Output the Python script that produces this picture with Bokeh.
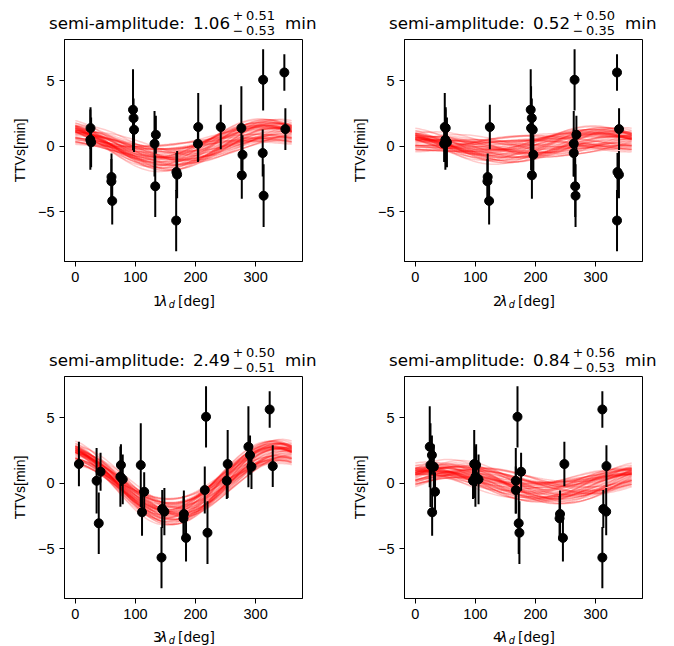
import numpy as np
from bokeh.plotting import figure
from bokeh.layouts import row, column
from bokeh.models import Range1d, FixedTicker, ColumnDataSource
from bokeh.core.properties import value
from bokeh.embed import file_html
from bokeh.resources import INLINE

# ---------------- data ----------------
ttv = [1.40, 0.51, 0.31, -2.34, -2.67, -4.17, 2.80, 2.16, 1.27, 0.89, 0.20, -3.05, -1.96,
       -2.16, -5.67, 1.48, 0.20, 1.48, 1.40, -0.64, -2.21, 5.09, -0.51, -3.77, 5.65, 1.32]
ttv_err = [1.6, 2.3, 1.9, 1.8, 1.7, 1.8, 3.1, 1.5, 1.7, 1.45, 2.5, 2.35, 1.45,
           1.8, 2.34, 2.6, 1.4, 1.7, 3.2, 1.5, 1.8, 2.34, 1.8, 2.4, 1.4, 1.6]
lam1 = [25.3, 25.0, 26.3, 60.2, 60.0, 61.4, 96.0, 96.9, 97.7, 134.0, 131.8, 133.0, 168.2,
        169.4, 167.8, 204.5, 204.0, 242.0, 276.3, 278.2, 277.0, 312.5, 311.8, 313.3, 347.8, 349.5]
lam2 = [50.6, 50.0, 52.6, 120.4, 120.0, 122.8, 192.0, 193.8, 195.4, 268.0, 263.6, 266.0, 336.4,
        338.8, 335.6, 49.0, 48.0, 124.0, 192.6, 196.4, 194.0, 265.0, 263.6, 266.6, 335.6, 339.0]
lam3 = [75.9, 75.0, 78.9, 180.6, 180.0, 184.2, 288.0, 290.7, 293.1, 42.0, 35.4, 39.0, 144.6,
        148.2, 143.4, 253.5, 252.0, 6.0, 108.9, 114.6, 111.0, 217.5, 215.4, 219.9, 323.4, 328.5]
lam4 = [101.2, 100.0, 105.2, 240.8, 240.0, 245.6, 24.0, 27.6, 30.8, 176.0, 167.2, 172.0, 312.8,
        317.6, 311.2, 98.0, 96.0, 248.0, 25.2, 32.8, 28.0, 170.0, 167.2, 173.2, 311.2, 318.0]
panel_phases = [lam1, lam2, lam3, lam4]

harmonics = ["1", "2", "3", "4"]
amp_med = ["1.06", "0.52", "2.49", "0.84"]
amp_up = ["0.51", "0.50", "0.50", "0.56"]
amp_lo = ["0.53", "0.35", "0.51", "0.53"]

x_ticks = [0, 100, 200, 300]
y_ticks = [-5, 0, 5]
y_tick_labels = {-5: "\u22125", 0: "0", 5: "5"}

# sinusoid model: offset c + a*cos(x) + b*sin(x), central values per panel
model_c = [0.17, 0.15, 0.15, 0.15]
model_a = [0.909, 0.345, 2.194, 0.511]
model_b = [-0.546, -0.289, -0.842, 0.549]
spread_ab = 0.45
spread_c = 0.30
# hand-typed standard deviates for the posterior sample curves
z1 = [0.12, -0.85, 1.34, -0.27, 0.56, -1.52, 0.03, 0.91, -0.44, 1.78, -0.66, 0.25, -1.13, 0.71, -0.08,
      1.02, -1.94, 0.38, -0.31, 0.64, 1.21, -0.72, 0.17, -0.55, 2.05, -0.19, 0.47, -1.36, 0.82, -0.02,
      -0.98, 0.33, 1.49, -0.61, 0.09, -1.25, 0.58, -0.37, 1.11, -0.83, 0.21, -0.14, 0.95, -1.67, 0.44,
      0.02, -0.49, 1.63, -0.26, 0.69, -1.05, 0.31, -0.76, 1.28, -0.11, 0.52, -2.12, 0.87, -0.35, 0.15]
z2 = [-0.42, 0.77, 0.05, -1.21, 1.46, 0.28, -0.63, -0.09, 1.05, -0.88, 0.36, -1.58, 0.61, 0.19, -0.97,
      1.87, 0.44, -0.23, -1.32, 0.81, -0.51, 0.13, 1.24, -0.74, -0.16, 0.95, -2.01, 0.53, -0.29, 1.39,
      0.07, -1.08, 0.66, -0.45, 1.72, -0.04, -0.81, 0.39, -1.44, 0.24, 1.13, -0.67, -0.18, 0.58, -1.19,
      0.92, 0.31, -0.56, 2.21, -0.93, 0.11, -0.38, 1.31, -1.71, 0.48, -0.21, 0.74, -0.06, -1.02, 0.57]
z3 = [0.63, -0.14, -1.08, 0.42, -0.37, 0.94, 1.55, -0.71, 0.18, -0.26, -1.47, 0.83, 0.29, -0.92, 1.16,
      -0.05, 0.51, -1.79, 0.72, 0.08, -0.59, 1.38, -0.33, 0.97, -0.11, -1.24, 0.36, 0.14, -0.68, 0.47,
      1.89, -0.41, -0.03, 1.07, -0.86, 0.25, -0.17, 1.62, 0.06, -1.15, -0.48, 0.79, 0.34, -0.22, 0.58,
      -1.98, 1.21, -0.61, 0.02, 0.41, -0.77, 1.01, 0.19, -0.39, -1.33, 0.88, 0.13, -0.54, 0.67, -0.09]

# ---------------- layout constants ----------------
FW, FH = 238, 222
LEFTS = [64, 56]
RIGHTS = [46, 24]
PTOP, PBOT = 2, 30
T1, MID, X2 = 37, 83, 18
X_RANGE = (-18, 378)
Y_RANGE = (-8.8, 8.17)
TICK_FONT = "Liberation Sans"
MATH_FONT = "DejaVu Sans"
BASE_FIX = 0.3   # baseline correction (fraction of font size) for text glyphs


def put(p, x, y, text, font, size_px, style="normal"):
    p.text(x=[x], y=[y + BASE_FIX * size_px], text=[text], text_font=value(font),
           text_font_size=value(f"{size_px}px"), text_font_style=style, text_color="black",
           text_baseline="alphabetic", text_align="left")


def strip(width, height):
    s = figure(width=width, height=height, x_range=Range1d(0, width), y_range=Range1d(0, height),
               output_backend="svg", toolbar_location=None, x_axis_type=None, y_axis_type=None,
               min_border_left=0, min_border_right=0, min_border_top=0, min_border_bottom=0,
               frame_align=False)
    s.outline_line_color = None
    s.background_fill_color = "white"
    s.border_fill_color = "white"
    return s


def add_title(s, left, i, ybase):
    put(s, left - 15.5, ybase, "semi-amplitude:", MATH_FONT, 16.7)
    put(s, left + 128.4, ybase, amp_med[i], MATH_FONT, 16.7)
    put(s, left + 168.3, ybase + 9, "+", MATH_FONT, 12.5)
    put(s, left + 181.5, ybase + 9, amp_up[i], MATH_FONT, 13)
    put(s, left + 168.3, ybase - 5.6, "\u2212", MATH_FONT, 12.5)
    put(s, left + 181.5, ybase - 5.6, amp_lo[i], MATH_FONT, 13)
    put(s, left + 220.5, ybase, "min", MATH_FONT, 16.7)


def add_xlabel(s, left, i, ybase):
    put(s, left + 88.5, ybase, harmonics[i], MATH_FONT, 13.9)
    put(s, left + 94.8, ybase, "\u03bb", MATH_FONT, 13.9, "italic")
    put(s, left + 104.3, ybase - 2.7, "d", MATH_FONT, 9.7, "italic")
    put(s, left + 113.5, ybase, "[deg]", MATH_FONT, 13.9)


def make_panel(i, left, right):
    p = figure(width=left + FW + right, height=PTOP + FH + PBOT,
               x_range=Range1d(*X_RANGE), y_range=Range1d(*Y_RANGE),
               output_backend="svg", toolbar_location=None,
               min_border_left=left, min_border_right=right,
               min_border_top=PTOP, min_border_bottom=PBOT, frame_align=False)
    p.xgrid.visible = False
    p.ygrid.visible = False
    p.outline_line_color = "black"
    p.outline_line_alpha = 1.0
    p.outline_line_width = 1
    p.background_fill_color = "white"
    p.border_fill_color = "white"

    for ax in (p.xaxis[0], p.yaxis[0]):
        ax.axis_line_color = "black"
        ax.major_tick_line_color = "black"
        ax.minor_tick_line_color = None
        ax.major_tick_out = 5
        ax.major_tick_in = 0
        ax.major_label_standoff = 5
        ax.major_label_text_font = TICK_FONT
        ax.major_label_text_font_size = "14.5px"
        ax.major_label_text_color = "black"
    p.xaxis.ticker = FixedTicker(ticks=x_ticks)
    p.yaxis.ticker = FixedTicker(ticks=y_ticks)
    p.yaxis.major_label_overrides = y_tick_labels
    p.yaxis.axis_label = "TTVs[min]"
    p.yaxis.axis_label_text_font = TICK_FONT
    p.yaxis.axis_label_text_font_style = "normal"
    p.yaxis.axis_label_text_font_size = "14px"
    p.yaxis.axis_label_text_color = "black"
    p.yaxis.axis_label_standoff = 7

    # posterior sample curves
    grid = np.arange(0, 361, 3, dtype=float)
    rad = np.deg2rad(grid)
    xs, ys = [], []
    for u, v, w in zip(z1, z2, z3):
        a = model_a[i] + spread_ab * u
        b = model_b[i] + spread_ab * v
        c = model_c[i] + spread_c * w
        xs.append(grid)
        ys.append(c + a * np.cos(rad) + b * np.sin(rad))
    p.multi_line(xs=xs, ys=ys, line_color="red", line_alpha=0.2, line_width=1.5)

    # data with error bars
    src = ColumnDataSource(dict(
        x=panel_phases[i], y=ttv,
        lo=[t - e for t, e in zip(ttv, ttv_err)],
        hi=[t + e for t, e in zip(ttv, ttv_err)]))
    p.segment(x0="x", y0="lo", x1="x", y1="hi", source=src, line_color="black", line_width=2)
    p.scatter(x="x", y="y", source=src, size=9, fill_color="black", line_color="black")
    return p


cols = []
for col in range(2):
    left, right = LEFTS[col], RIGHTS[col]
    w = left + FW + right
    top_i, bot_i = col, col + 2

    t = strip(w, T1)
    add_title(t, left, top_i, 9)

    p_top = make_panel(top_i, left, right)

    m = strip(w, MID)
    add_xlabel(m, left, top_i, MID - 13.7)
    add_title(m, left, bot_i, 9)

    p_bot = make_panel(bot_i, left, right)

    b = strip(w, X2)
    add_xlabel(b, left, bot_i, X2 - 12.3)

    cols.append(column(t, p_top, m, p_bot, b, spacing=0))

page = row(cols[0], cols[1], spacing=0)

with open("out.html", "w") as f:
    f.write(file_html(page, INLINE, title="TTV harmonics"))
